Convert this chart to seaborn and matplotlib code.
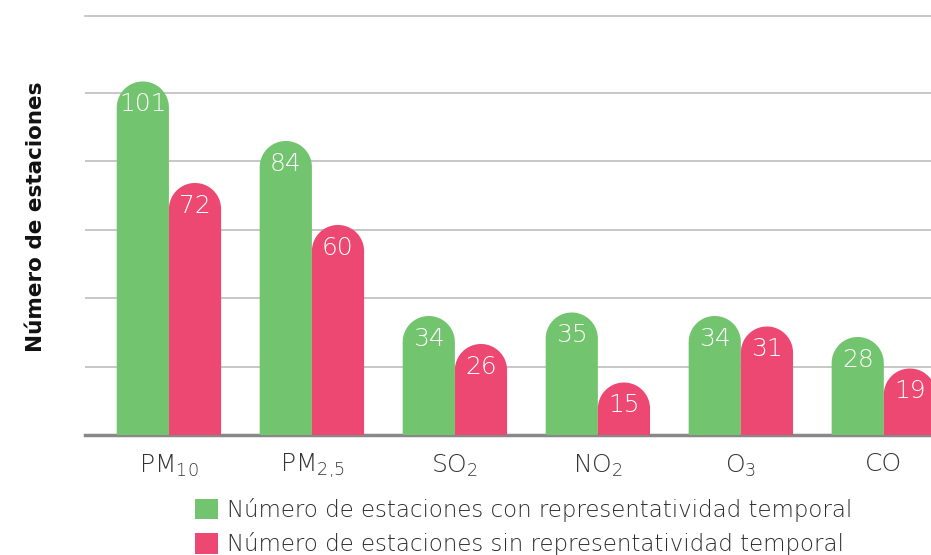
import matplotlib
matplotlib.use("Agg")
import matplotlib.pyplot as plt
import numpy as np
import pandas as pd
import seaborn as sns
from matplotlib.patches import Polygon, Patch

contaminantes = ["PM$_\\mathregular{10}$", "PM$_\\mathregular{2{,}5}$", "SO$_\\mathregular{2}$",
                 "NO$_\\mathregular{2}$", "O$_\\mathregular{3}$", "CO"]
con_repr = [101, 84, 34, 35, 34, 28]
sin_repr = [72, 60, 26, 15, 31, 19]
series = ["Número de estaciones con representatividad temporal",
          "Número de estaciones sin representatividad temporal"]
colores = ["#73C46F", "#EC4871"]

df = pd.DataFrame({
    "contaminante": contaminantes * 2,
    "estaciones": con_repr + sin_repr,
    "serie": [series[0]] * len(con_repr) + [series[1]] * len(sin_repr),
})

sns.set_style("white")
plt.rcParams["font.family"] = ["DejaVu Sans"]
plt.rcParams["mathtext.fontset"] = "dejavusans"

fig = plt.figure(figsize=(9.31, 5.55), dpi=100)
ax = fig.add_axes([85 / 931, 1 - 435 / 555, 1 - 85 / 931, (435 - 16) / 555])

sns.barplot(data=df, x="contaminante", y="estaciones", hue="serie",
            palette=colores, saturation=1, width=0.73, legend=False, ax=ax)

ytop = 119.7
gap = 68.5 * ytop / 419   # gridline spacing in data units
ax.set_ylim(0, ytop)
ax.set_xlim(-0.587, 5.33)
ax.set_yticks(np.arange(0, 5.5) * gap)
ax.yaxis.grid(True, color="#BDBDBD", lw=1.2)
ax.set_axisbelow(True)
for s in ["left", "right"]:
    ax.spines[s].set_visible(False)
ax.spines["top"].set_color("#BDBDBD")
ax.spines["top"].set_linewidth(1.2)
ax.spines["bottom"].set_color("#888888")
ax.spines["bottom"].set_linewidth(2.5)
ax.tick_params(axis="y", left=False, labelleft=False)
ax.tick_params(axis="x", bottom=False, pad=9, labelsize=18, labelcolor="#333333")
for lbl in ax.get_xticklabels():
    lbl.set_fontweight("light")
ax.set_xlabel("")
ax.set_ylabel("Número de estaciones", fontsize=15.5, fontweight="bold", color="#111111")
ax.yaxis.set_label_coords(-39 / 846, 0.52)

# rounded tops
ax_w_px = 846
ax_h_px = 419
xpx = ax_w_px / (5.33 + 0.587)
ypx = ax_h_px / ytop
for container, color in zip(ax.containers, colores):
    for bar in container:
        x0 = bar.get_x()
        w = bar.get_width()
        h = bar.get_height()
        rx = w / 2
        ry = rx * xpx / ypx
        theta = np.linspace(np.pi, 0, 40)
        arc = np.column_stack([x0 + rx + rx * np.cos(theta), h - ry + ry * np.sin(theta)])
        pts = np.vstack([[x0, 0], arc, [x0 + w, 0]])
        bar.set_visible(False)
        ax.add_patch(Polygon(pts, closed=True, facecolor=color, edgecolor="none",
                             zorder=3, clip_on=True))
        ax.text(x0 + rx, h - 23 / ypx, f"{int(h)}", ha="center", va="center",
                color="white", fontsize=18, fontweight="light", zorder=4)

handles = [Patch(facecolor=c, edgecolor="none") for c in colores]
fig.legend(handles, series, loc="upper left", bbox_to_anchor=(195 / 931, 1 - 498 / 555),
           frameon=False, handlelength=1.0, handleheight=1.0,
           handletextpad=0.4, labelspacing=0.45, labelcolor="#2b2b2b",
           borderaxespad=0, borderpad=0, prop={"weight": "light", "size": 16.5})

fig.savefig("out.png", dpi=100)
